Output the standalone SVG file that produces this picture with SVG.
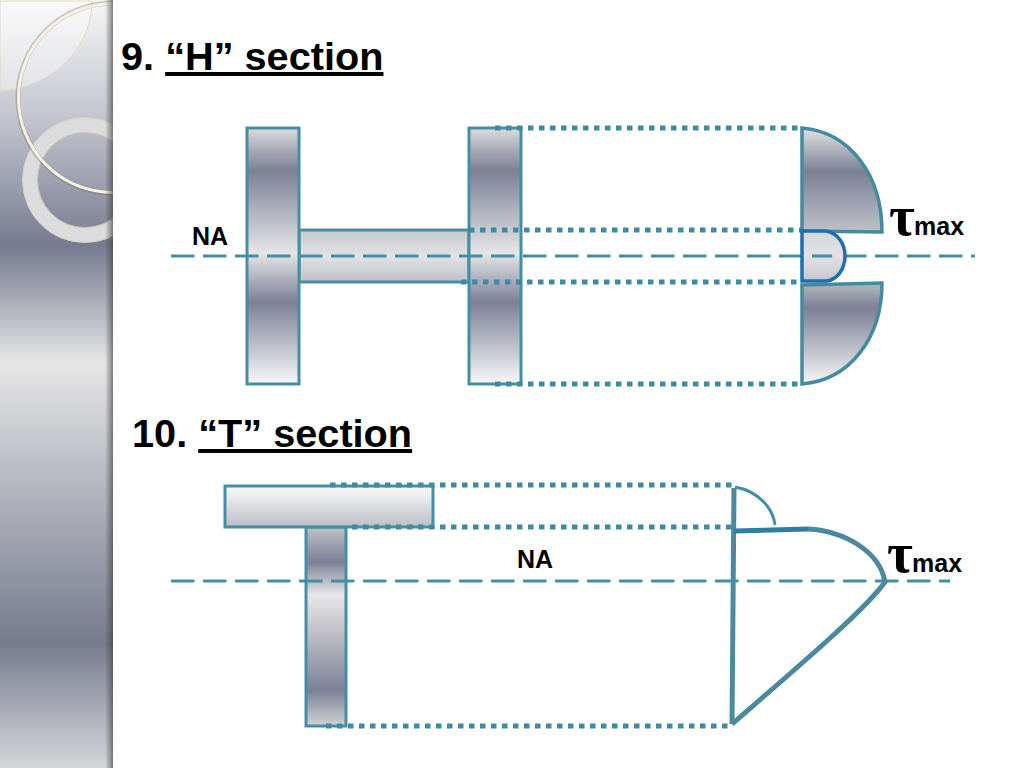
<svg xmlns="http://www.w3.org/2000/svg" width="1024" height="768" viewBox="0 0 1024 768">
<defs>
<linearGradient id="side" x1="0" y1="0" x2="0" y2="768" gradientUnits="userSpaceOnUse">
<stop offset="0" stop-color="#f6f6f6"/><stop offset="0.15" stop-color="#c4c6cf"/><stop offset="0.32" stop-color="#767b90"/><stop offset="0.473" stop-color="#e6e6e6"/><stop offset="0.577" stop-color="#c6c7cc"/><stop offset="0.837" stop-color="#767b8e"/><stop offset="1" stop-color="#d6d7da"/>
</linearGradient>
<linearGradient id="shadow" x1="0" y1="0" x2="1" y2="0">
<stop offset="0" stop-color="#444" stop-opacity="0"/><stop offset="1" stop-color="#444" stop-opacity="0.65"/>
</linearGradient>
<linearGradient id="web" x1="0" y1="0" x2="0" y2="1">
<stop offset="0" stop-color="#dcdcde"/><stop offset="0.165" stop-color="#7b8095"/><stop offset="0.49" stop-color="#e6e6e8"/><stop offset="0.68" stop-color="#7b8095"/><stop offset="1" stop-color="#f8f8f8"/>
</linearGradient>
<linearGradient id="tweb" x1="0" y1="0" x2="0" y2="1">
<stop offset="0" stop-color="#c0c1c6"/><stop offset="0.175" stop-color="#7b8095"/><stop offset="0.34" stop-color="#e6e6e8"/><stop offset="0.5" stop-color="#c8c8cc"/><stop offset="0.82" stop-color="#7b8095"/><stop offset="1" stop-color="#d2d2d6"/>
</linearGradient>
<linearGradient id="bar" x1="0" y1="0" x2="0" y2="1">
<stop offset="0" stop-color="#fafafa"/><stop offset="1" stop-color="#bdbfc6"/>
</linearGradient>
<linearGradient id="bar2" x1="0" y1="0" x2="0" y2="1">
<stop offset="0" stop-color="#c8c9ce"/><stop offset="0.5" stop-color="#e2e2e4"/><stop offset="1" stop-color="#c0c1c8"/>
</linearGradient>
<linearGradient id="lobeT" x1="0" y1="0" x2="0" y2="1">
<stop offset="0" stop-color="#e2e2e4"/><stop offset="0.42" stop-color="#7b8095"/><stop offset="1" stop-color="#bfc1c8"/>
</linearGradient>
<linearGradient id="lobeB" x1="0" y1="0" x2="0" y2="1">
<stop offset="0" stop-color="#b5b7c0"/><stop offset="0.25" stop-color="#7b8095"/><stop offset="1" stop-color="#f6f6f6"/>
</linearGradient>
<linearGradient id="mid" x1="0" y1="0" x2="0" y2="1">
<stop offset="0" stop-color="#d2d3d8"/><stop offset="0.5" stop-color="#dedfe2"/><stop offset="1" stop-color="#bfc1c8"/>
</linearGradient>
<clipPath id="sideclip"><rect width="113" height="768"/></clipPath>
<style>
.shape{stroke:#458fa5;stroke-width:3}
.lobe{stroke:#458a9f;stroke-width:3.5}
.dot{fill:none;stroke:#3f8aa2;stroke-width:5;stroke-dasharray:5.5 5.5}
.na{fill:none;stroke:#458fa5;stroke-width:3;stroke-dasharray:23.5 8.5}
.heavy{fill:none;stroke:#4a8aa0;stroke-width:5}
text{font-family:"Liberation Sans",Arial,sans-serif;font-weight:700;fill:#000}
.title{font-size:39.7px}
.na-l{font-size:25px}
.tau{font-family:"Liberation Serif","Times New Roman",serif;font-size:56px}
.max{font-size:25px}
</style>
</defs>
<rect width="1024" height="768" fill="#fff"/>
<g id="sidebar">
<rect width="113" height="768" fill="url(#side)"/>
<g clip-path="url(#sideclip)">
<path d="M0 1H92C92 50 50 88 0 91Z" fill="#fff" fill-opacity="0.4" stroke="#e4dcc0" stroke-width="1"/>
<circle cx="85" cy="180" r="55" fill="none" stroke="#dcdcde" stroke-width="15"/>
<circle cx="85" cy="180" r="62.5" fill="none" stroke="#d8d2bb" stroke-width="1"/>
<circle cx="85" cy="180" r="47.5" fill="none" stroke="#c8c4b0" stroke-width="1"/>
<circle cx="113" cy="98" r="95" fill="none" stroke="#666" stroke-opacity="0.35" stroke-width="5"/>
<circle cx="113" cy="98" r="94.5" fill="none" stroke="#f6f2dc" stroke-width="3"/>
</g>
<rect x="105" width="8" height="768" fill="url(#shadow)"/>
</g>
<g id="title9"><text class="title" x="121" y="70">9. <tspan text-decoration="underline">“H” section</tspan></text></g>
<g id="title10"><text class="title" x="132" y="447">10. <tspan text-decoration="underline">“T” section</tspan></text></g>
<g id="h-section">
<rect class="shape" x="299" y="230" width="170" height="52" fill="url(#bar2)"/>
<rect class="shape" x="247" y="128" width="52" height="256" fill="url(#web)"/>
<rect class="shape" x="469" y="128" width="52" height="256" fill="url(#web)"/>
</g>
<g id="h-diagram">
<path class="lobe" d="M802 128C850 132 882 175 882 232L802 231Z" fill="url(#lobeT)"/>
<path class="lobe" d="M802 384C850 380 882 338 882 283L802 285Z" fill="url(#lobeB)"/>
</g>
<g id="t-section">
<rect class="shape" x="306" y="527" width="40" height="199" fill="url(#tweb)"/>
<rect class="shape" x="225" y="486" width="208" height="41" fill="url(#bar)"/>
</g>
<g id="t-diagram">
<path d="M735 487C758 491 773 508 775 525" fill="none" stroke="#458fa5" stroke-width="3"/>
<path class="heavy" d="M734 488L732 724"/>
<path d="M734 531L808 529" fill="none" stroke="#2f7d9f" stroke-width="5"/>
<path class="heavy" d="M808 529C845 531 880 552 885 582C865 610 800 665 732 724"/>
</g>
<g id="connectors">
<path class="na" d="M171 256H975"/>
<path class="na" d="M171 581H950"/>
<path class="dot" d="M495 128H802M469 230H802M461 282H802M495 384H802"/>
<path class="dot" d="M330 485H733M352 527H733M326 726H732"/>
</g>
<g id="h-peak">
<path d="M802 231H826C838 233 845 244 845 256C845 268 838 280 826 281H802Z" fill="url(#mid)" fill-opacity="0.9" stroke="#1f6fae" stroke-width="3.5"/>
<path d="M812 256H832" stroke="#458fa5" stroke-width="3"/>
</g>
<g id="labels">
<text class="na-l" x="192" y="245">NA</text>
<text class="na-l" x="517" y="568">NA</text>
<text class="tau" x="889" y="235">τ</text><text class="max" x="914" y="235">max</text>
<text class="tau" x="887" y="572">τ</text><text class="max" x="912" y="572">max</text>
</g>
</svg>
